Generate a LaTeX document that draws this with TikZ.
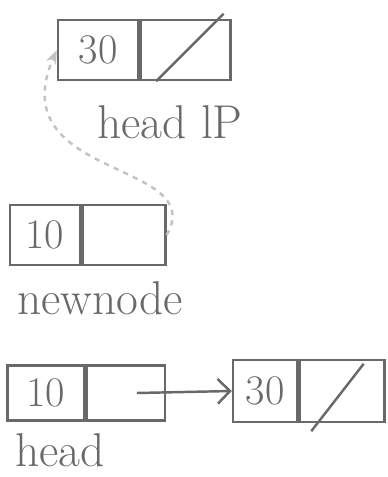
\documentclass[tikz,border=0pt]{standalone}
\usepackage{tikz}
\usetikzlibrary{positioning, arrows.meta, calc}
\definecolor{pencil}{RGB}{105,105,105}
\colorlet{faint}{pencil!40}

\begin{document}
\begin{tikzpicture}[
  x=0.02cm, y=-0.02cm,
  cell/.style={draw=pencil, line width=1.4pt, inner sep=0pt, minimum height=1.2cm,
    font=\fontsize{24}{28}\selectfont, text=pencil},
  tag/.style={font=\fontsize{27}{32}\selectfont, text=pencil},
  link/.style={draw=pencil, line width=1.4pt},
]
  \useasboundingbox (0,0) rectangle (388,477);

  % old head node
  \node[cell, minimum width=1.6cm] (topval) at (98,50) {30};
  \node[cell, minimum width=1.8cm, right=0pt of topval] (topnext) {};
  \draw[link] ($(topnext.south west)+(0.34cm,0)$) -- ($(topnext.north east)+(-0.16cm,0.1cm)$);
  \node[tag] (toplbl) at (170,122) {head lP};

  % new node
  \node[cell, minimum width=1.4cm] (newval) at (45,235) {10};
  \node[cell, minimum width=1.66cm, right=0pt of newval] (newnext) {};
  \node[tag] (newlbl) at (100,298) {newnode};
  \draw[faint, dashed, line width=1.4pt, -{Stealth[length=8pt]}]
    (newnext.east) .. controls (210,160) and (0,180) .. (topval.west);

  % resulting list
  \node[cell, minimum width=1.54cm, minimum height=1.1cm] (headval) at (46,393) {10};
  \node[cell, minimum width=1.56cm, minimum height=1.1cm, right=0pt of headval] (headnext) {};
  \node[cell, minimum width=1.28cm, minimum height=1.24cm] (secval) at (265,391) {30};
  \node[cell, minimum width=1.7cm, minimum height=1.24cm, right=0pt of secval] (secnext) {};
  \draw[link] ($(secnext.south west)+(0.26cm,-0.16cm)$) -- ($(secnext.north east)+(-0.44cm,-0.1cm)$);
  \draw[link, -{Straight Barb[length=7pt]}] ($(headnext.center)+(0.22cm,0)$) -- (secval.west);
  \node[tag] (headlbl) at (60,450) {head};
\end{tikzpicture}
\end{document}
